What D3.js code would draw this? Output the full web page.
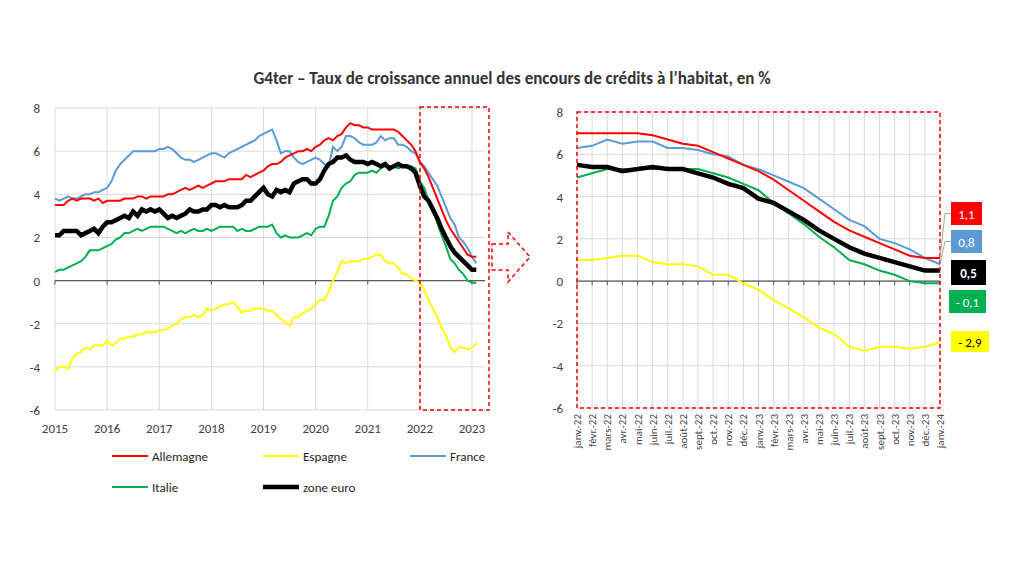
<!DOCTYPE html><html><head><meta charset="utf-8"><script src="https://cdn.jsdelivr.net/npm/d3@7"></script>
<style>body{margin:0;background:#fff}text{font-family:Calibri,Carlito,"Liberation Sans",Arial,sans-serif}</style></head><body><svg id="c" width="1024" height="575"></svg><script>
const years=["2015","2016","2017","2018","2019","2020","2021","2022","2023"];
const months=["janv.-22","févr.-22","mars-22","avr.-22","mai-22","juin-22","juil.-22","août-22","sept.-22","oct.-22","nov.-22","déc.-22","janv.-23","févr.-23","mars-23","avr.-23","mai-23","juin-23","juil.-23","août-23","sept.-23","oct.-23","nov.-23","déc.-23","janv.-24"];
const yTicks=[-6,-4,-2,0,2,4,6,8];
// Recent values (right panel)
const deR=[7,7,7,7,7,6.9,6.7,6.5,6.4,6.1,5.8,5.5,5.2,4.8,4.3,3.8,3.3,2.8,2.4,2.1,1.8,1.5,1.2,1.1,1.1];
const frR=[6.3,6.4,6.7,6.5,6.6,6.6,6.3,6.3,6.2,6.0,5.9,5.5,5.3,5.0,4.7,4.4,3.9,3.4,2.9,2.6,2.0,1.8,1.5,1.1,0.8];
const euR=[5.5,5.4,5.4,5.2,5.3,5.4,5.3,5.3,5.1,4.9,4.6,4.4,3.9,3.7,3.3,2.9,2.4,2.0,1.6,1.3,1.1,0.9,0.7,0.5,0.5];
const itR=[4.9,5.1,5.3,5.3,5.3,5.3,5.3,5.3,5.3,5.1,4.9,4.6,4.3,3.7,3.2,2.7,2.1,1.6,1.0,0.8,0.5,0.3,0.0,-0.1,-0.1];
const esR=[1.0,1.0,1.1,1.2,1.2,0.9,0.8,0.8,0.7,0.3,0.3,-0.1,-0.4,-0.9,-1.3,-1.7,-2.2,-2.5,-3.1,-3.3,-3.1,-3.1,-3.2,-3.1,-2.9];
// Earlier values (left panel, monthly)
const deE=[3.5,3.5,3.5,3.7,3.8,3.7,3.8,3.8,3.8,3.7,3.8,3.6, 3.7,3.7,3.7,3.7,3.8,3.8,3.8,3.9,3.9,3.8,3.9,3.9, 3.9,3.9,4.0,4.0,4.1,4.2,4.3,4.2,4.3,4.4,4.3,4.4, 4.5,4.6,4.6,4.6,4.7,4.7,4.7,4.7,4.9,4.8,4.9,5.0, 5.1,5.3,5.4,5.4,5.5,5.7,5.8,5.9,6.0,6.0,6.1,6.0, 6.2,6.3,6.5,6.6,6.5,6.7,6.8,7.1,7.3,7.2,7.2,7.1, 7.1,7.0,7.0,7.0,7.0,7.0,7.0,6.9,6.7,6.5,6.3,6.0];
const frE=[3.8,3.7,3.8,3.9,3.8,3.8,3.9,4.0,4.0,4.1,4.1,4.2, 4.3,4.6,5.1,5.4,5.6,5.8,6.0,6.0,6.0,6.0,6.0,6.0, 6.1,6.1,6.2,6.1,5.9,5.7,5.6,5.6,5.5,5.6,5.7,5.8, 5.9,5.9,5.8,5.7,5.9,6.0,6.1,6.2,6.3,6.4,6.5,6.7, 6.8,6.9,7.0,6.5,5.9,6.0,6.0,5.7,5.5,5.4,5.5,5.6, 5.7,5.6,5.4,5.3,6.2,6.0,6.2,6.7,6.7,6.6,6.4,6.3, 6.3,6.3,6.4,6.7,6.5,6.6,6.6,6.3,6.3,6.2,6.0,5.9];
const euE=[2.1,2.1,2.3,2.3,2.3,2.3,2.1,2.2,2.3,2.4,2.2,2.5, 2.7,2.7,2.8,2.9,3.0,2.9,3.2,3.0,3.3,3.2,3.3,3.2, 3.3,3.1,2.9,3.0,2.9,3.0,3.1,3.3,3.2,3.2,3.3,3.3, 3.5,3.5,3.4,3.5,3.4,3.4,3.4,3.5,3.7,3.7,3.9,4.1, 4.3,4.0,3.9,4.2,4.1,4.2,4.1,4.5,4.6,4.7,4.7,4.5, 4.5,4.7,5.1,5.4,5.5,5.7,5.7,5.8,5.6,5.5,5.5,5.5, 5.4,5.5,5.4,5.3,5.4,5.2,5.3,5.4,5.3,5.3,5.2,5.0];
const itE=[0.4,0.5,0.5,0.6,0.7,0.8,0.9,1.1,1.4,1.4,1.4,1.5, 1.6,1.7,1.9,2.0,2.2,2.2,2.3,2.4,2.3,2.4,2.5,2.5, 2.5,2.5,2.4,2.3,2.2,2.3,2.2,2.3,2.4,2.3,2.3,2.4, 2.3,2.4,2.5,2.5,2.5,2.5,2.3,2.4,2.3,2.3,2.4,2.5, 2.5,2.5,2.6,2.2,2.0,2.1,2.0,2.0,2.0,2.1,2.2,2.1, 2.4,2.5,2.5,3.0,3.7,3.9,4.3,4.5,4.6,4.9,5.0,5.0, 5.0,5.1,5.0,5.2,5.3,5.3,5.3,5.2,5.3,5.3,5.3,5.2];
const esE=[-4.2,-4.0,-4.0,-4.1,-3.6,-3.4,-3.3,-3.1,-3.2,-3.0,-3.0,-3.0, -2.8,-3.0,-2.9,-2.7,-2.7,-2.6,-2.6,-2.5,-2.5,-2.4,-2.4,-2.4, -2.3,-2.3,-2.2,-2.1,-2.0,-1.8,-1.7,-1.7,-1.6,-1.7,-1.6,-1.3, -1.4,-1.3,-1.2,-1.1,-1.1,-1.0,-1.2,-1.5,-1.4,-1.4,-1.3,-1.3, -1.3,-1.4,-1.4,-1.6,-1.8,-1.9,-2.1,-1.7,-1.7,-1.5,-1.4,-1.3, -1.1,-0.9,-0.9,-0.5,0.0,0.4,0.9,0.8,0.9,0.9,0.9,1.0, 1.0,1.1,1.2,1.2,0.9,0.8,0.8,0.6,0.3,0.3,0.1,0.0];
const names=["Allemagne","Espagne","France","Italie","zone euro"];
const colors=["#ff0000","#ffff00","#5b9bd5","#00b050","#000000"];
const widths=[2,2,2,2,4.5];
const lastLbl=["1,1","- 2,9","0,8","- 0,1","0,5"];

const svg=d3.select("#c");
svg.append("text").attr("x",512).attr("y",84).attr("text-anchor","middle").attr("font-size",17).attr("font-weight","bold").attr("fill","#333").text("G4ter – Taux de croissance annuel des encours de crédits à l’habitat, en %");

const seriesR=[deR,esR,frR,itR,euR];
const seriesL=[deE.concat(deR.slice(11)),esE.concat(esR.slice(11)),frE.concat(frR.slice(11)),itE.concat(itR.slice(11)),euE.concat(euR.slice(11))];

// LEFT
const xL=d3.scaleLinear().domain([2015,2023.25]).range([55,485]);
const yL=d3.scaleLinear().domain([-6,8]).range([410,108]);
const gL=svg.append("g");
gL.selectAll(".hg").data(yTicks).join("line").attr("x1",55).attr("x2",485).attr("y1",d=>yL(d)).attr("y2",d=>yL(d)).attr("stroke","#d9d9d9");
gL.selectAll(".vg").data(years).join("line").attr("x1",d=>xL(+d)).attr("x2",d=>xL(+d)).attr("y1",108).attr("y2",410).attr("stroke","#d9d9d9");
gL.append("line").attr("x1",55).attr("x2",485).attr("y1",yL(0)).attr("y2",yL(0)).attr("stroke","#595959").attr("stroke-width",1.2);
gL.selectAll(".tk").data(years).join("line").attr("x1",d=>xL(+d)).attr("x2",d=>xL(+d)).attr("y1",yL(0)).attr("y2",yL(0)+4).attr("stroke","#595959");
gL.selectAll(".yl").data(yTicks).join("text").attr("x",40).attr("y",d=>yL(d)+5).attr("text-anchor","end").attr("font-size",13).attr("fill","#404040").text(d=>d);
gL.selectAll(".xl").data(years).join("text").attr("x",d=>xL(+d)).attr("y",433).attr("text-anchor","middle").attr("font-size",13).attr("fill","#404040").text(d=>d);
const lineL=d3.line().x((d,i)=>xL(2015+i/12)).y(d=>yL(d));
[1,3,2,0,4].forEach(k=>gL.append("path").attr("d",lineL(seriesL[k])).attr("fill","none").attr("stroke",colors[k]).attr("stroke-width",widths[k]));
// left dashed box & arrow
svg.append("rect").attr("x",420).attr("y",107).attr("width",69).attr("height",303).attr("fill","none").attr("stroke","#ff0000").attr("stroke-width",1.5).attr("stroke-dasharray","4,3");
svg.append("path").attr("d","M492,244 H508 V232 L530,257 L508,282 V270 H492 Z").attr("fill","#fff").attr("stroke","#ff0000").attr("stroke-width",1.5).attr("stroke-dasharray","4,3");

// legend
const leg=[[0,112,456],[1,263,456],[2,410,456],[3,112,487],[4,263,487]];
leg.forEach(([k,x,y])=>{svg.append("line").attr("x1",x).attr("x2",x+36).attr("y1",y).attr("y2",y).attr("stroke",colors[k]).attr("stroke-width",k===4?4.5:2);
svg.append("text").attr("x",x+40).attr("y",y+5).attr("font-size",13).attr("fill","#262626").text(names[k]);});

// RIGHT
const xR=d3.scalePoint().domain(months).range([577,940]);
const yR=d3.scaleLinear().domain([-6,8]).range([408,112]);
const gR=svg.append("g");
gR.selectAll(".hg").data(yTicks).join("line").attr("x1",577).attr("x2",940).attr("y1",d=>yR(d)).attr("y2",d=>yR(d)).attr("stroke","#d9d9d9");
gR.selectAll(".vg").data(months).join("line").attr("x1",d=>xR(d)).attr("x2",d=>xR(d)).attr("y1",112).attr("y2",408).attr("stroke","#d9d9d9");
gR.append("line").attr("x1",577).attr("x2",940).attr("y1",yR(0)).attr("y2",yR(0)).attr("stroke","#595959").attr("stroke-width",1.2);
gR.selectAll(".tk").data(months).join("line").attr("x1",d=>xR(d)).attr("x2",d=>xR(d)).attr("y1",yR(0)).attr("y2",yR(0)+4).attr("stroke","#595959");
gR.selectAll(".yl").data(yTicks).join("text").attr("x",563).attr("y",d=>yR(d)+5).attr("text-anchor","end").attr("font-size",13).attr("fill","#404040").text(d=>d);
gR.selectAll(".xl").data(months).join("text").attr("transform",d=>`translate(${xR(d)+4},414) rotate(-90)`).attr("text-anchor","end").attr("font-size",11).attr("fill","#404040").text(d=>d);
const lineR=d3.line().x((d,i)=>xR(months[i])).y(d=>yR(d));
[1,3,2,0,4].forEach(k=>gR.append("path").attr("d",lineR(seriesR[k])).attr("fill","none").attr("stroke",colors[k]).attr("stroke-width",widths[k]));
svg.append("rect").attr("x",577).attr("y",112).attr("width",363).attr("height",296).attr("fill","none").attr("stroke","#ff0000").attr("stroke-width",1.5).attr("stroke-dasharray","4,3");

// end labels
const boxes=[[0,951,202,31,23,"#fff"],[2,951,230,31,23,"#fff"],[4,951,260,35,25,"#fff"],[3,949,290,37,23,"#fff"],[1,951,331,38,21,"#000"]];
boxes.forEach(([k,x,y,w,h,tc])=>{
 const v=seriesR[k][24];
 if(k===0||k===2) svg.append("polyline").attr("points",`${xR(months[24])},${yR(v)} ${x-6},${y+h/2} ${x},${y+h/2}`).attr("fill","none").attr("stroke","#a6a6a6");
 svg.append("rect").attr("x",x).attr("y",y).attr("width",w).attr("height",h).attr("fill",colors[k]);
 svg.append("text").attr("x",x+w/2).attr("y",y+h/2+5).attr("text-anchor","middle").attr("font-size",13).attr("font-weight",k===4?"bold":"normal").attr("fill",tc).text(lastLbl[k]);
});
</script></body></html>
